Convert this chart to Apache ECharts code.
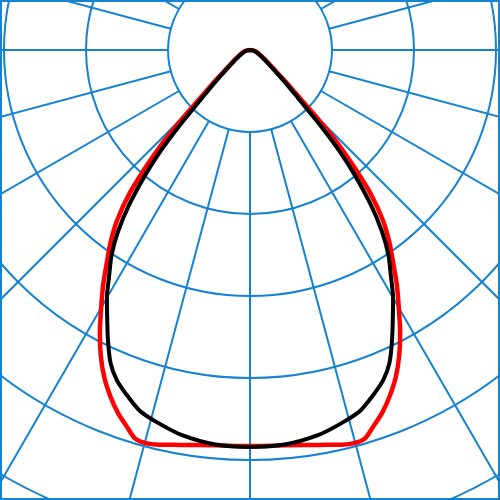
<!DOCTYPE html>
<html>
<head>
<meta charset="utf-8">
<script src="https://cdn.jsdelivr.net/npm/echarts@6/dist/echarts.min.js"></script>
<style>
html,body{margin:0;padding:0;background:#fff;}
#main{width:500px;height:500px;}
</style>
</head>
<body>
<div id="main"></div>
<script>
// Gamma angles (deg from nadir) and intensities (grid rings every 100 units)
var blackAngles = [0,5,10,14,17,20,22,24,26,28,30,32,34,36,38,40,41.5,43,44,45,47,50,55,60,70,80,90];
var blackValues = [484,483,477,468,460,445,434,418,395,371,349,324,302,274,239,198,165,127,100,83,61,40,24,16,9,4,0];

var redAngles = [0,5,10,13,15,16.5,18,20,22,24,26,28,30,32,34,36,38,40,41.5,43,44,45,46,48,50,55,60,70,80,90];
var redValues = [483,484,489,494,496,494,484,471,455,437,415,390,363,338,312,289,263,229,195,161,134,107,85,61,44,27,18,10,5,0];

var ringMin = 100, ringMax = 700, ringStep = 100;
var gridColor = '#1582d2';

function buildCurve(angles, values) {
  var pts = [];
  // right half (mirror), from horizontal down to nadir
  for (var i = angles.length - 1; i >= 0; i--) {
    pts.push([values[i], 360 - angles[i]]);
  }
  // left half, from nadir up to horizontal
  for (var j = 0; j < angles.length; j++) {
    pts.push([values[j], angles[j]]);
  }
  return pts;
}

var chart = echarts.init(document.getElementById('main'));
chart.setOption({
  animation: false,
  backgroundColor: '#ffffff',
  polar: [
    { center: [250, 50], radius: [82, 574] },
    { center: [250, 50], radius: [0, 574] }
  ],
  angleAxis: [
    {
      polarIndex: 0, type: 'value', min: 0, max: 360, interval: 15,
      startAngle: -90, clockwise: true,
      axisLine: { show: false }, axisTick: { show: false }, axisLabel: { show: false },
      splitLine: { show: true, lineStyle: { color: gridColor, width: 2 } }
    },
    {
      polarIndex: 1, type: 'value', min: 0, max: 360,
      startAngle: -90, clockwise: true,
      axisLine: { show: false }, axisTick: { show: false }, axisLabel: { show: false },
      splitLine: { show: false }
    }
  ],
  radiusAxis: [
    {
      polarIndex: 0, type: 'value', min: ringMin, max: ringMax, interval: ringStep,
      axisLine: { show: false }, axisTick: { show: false }, axisLabel: { show: false },
      splitLine: { show: true, lineStyle: { color: gridColor, width: 2 } }
    },
    {
      polarIndex: 1, type: 'value', min: 0, max: ringMax,
      axisLine: { show: false }, axisTick: { show: false }, axisLabel: { show: false },
      splitLine: { show: false }
    }
  ],
  graphic: [{
    type: 'rect', z: 100,
    shape: { x: 1, y: 1, width: 498, height: 498 },
    style: { fill: 'none', stroke: gridColor, lineWidth: 2 }
  }],
  series: [
    {
      type: 'line', coordinateSystem: 'polar', polarIndex: 1,
      data: buildCurve(redAngles, redValues),
      showSymbol: false, smooth: 0.25,
      lineStyle: { color: '#ff0000', width: 4.5 }, z: 3
    },
    {
      type: 'line', coordinateSystem: 'polar', polarIndex: 1,
      data: buildCurve(blackAngles, blackValues),
      showSymbol: false, smooth: 0.25,
      lineStyle: { color: '#000000', width: 4 }, z: 4
    }
  ]
});
</script>
</body>
</html>
